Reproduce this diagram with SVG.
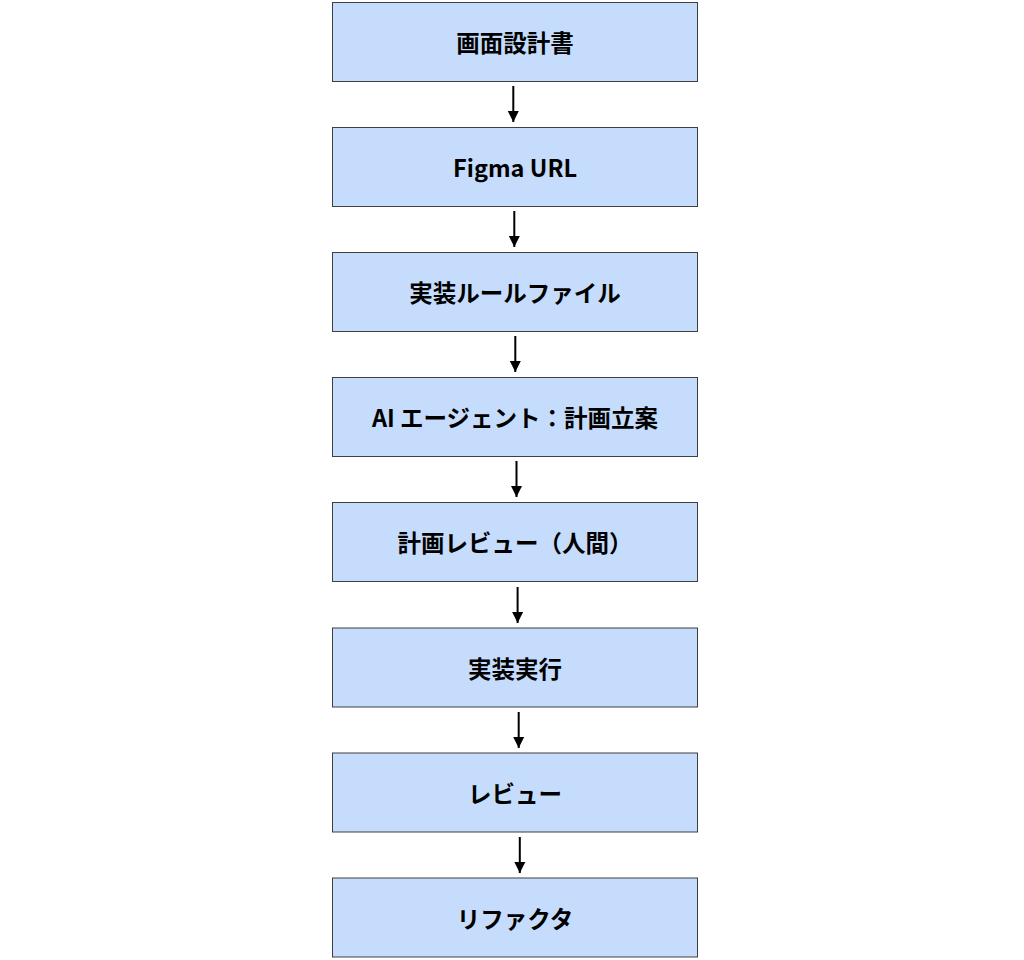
<svg xmlns="http://www.w3.org/2000/svg" width="1024" height="960" viewBox="0 0 1024 960">
<style>
.box{fill:#c5dcfc;stroke:#3f3f3f;stroke-width:1}
.lbl{font-family:"Noto Sans CJK JP","Noto Sans",sans-serif;font-weight:bold;font-size:23.5px;fill:#000;text-anchor:middle;dominant-baseline:central}
.edge{stroke:#000;stroke-width:2;fill:none;marker-end:url(#ah)}
</style>
<defs>
<marker id="ah" viewBox="0 0 10 10" refX="10" refY="5" markerWidth="5.5" markerHeight="6.5" markerUnits="strokeWidth" orient="auto">
<path d="M0,0 L10,5 L0,10 Z" fill="#000"/>
</marker>
</defs>
<rect width="1024" height="960" fill="#fff"/>
<g id="connectors">
<line class="edge" x1="513.3" y1="86" x2="513.3" y2="122"/>
<line class="edge" x1="514.3" y1="211" x2="514.3" y2="247"/>
<line class="edge" x1="515.3" y1="336" x2="515.3" y2="372"/>
<line class="edge" x1="516.5" y1="461" x2="516.5" y2="497"/>
<line class="edge" x1="517.6" y1="587" x2="517.6" y2="623"/>
<line class="edge" x1="518.7" y1="712" x2="518.7" y2="748"/>
<line class="edge" x1="519.8" y1="837" x2="519.8" y2="873"/>
</g>
<g id="n1"><rect class="box" x="332.5" y="2.5" width="365" height="79"/><text class="lbl" x="515" y="42">画面設計書</text></g>
<g id="n2"><rect class="box" x="332.5" y="127.5" width="365" height="79"/><text class="lbl" x="515" y="167">Figma URL</text></g>
<g id="n3"><rect class="box" x="332.5" y="252.5" width="365" height="79"/><text class="lbl" x="515" y="292">実装ルールファイル</text></g>
<g id="n4"><rect class="box" x="332.5" y="377.5" width="365" height="79"/><text class="lbl" x="515" y="417">AI エージェント：計画立案</text></g>
<g id="n5"><rect class="box" x="332.5" y="502.5" width="365" height="79"/><text class="lbl" x="515" y="542">計画レビュー（人間）</text></g>
<g id="n6"><rect class="box" x="332.5" y="628" width="365" height="79"/><text class="lbl" x="515" y="667.5">実装実行</text></g>
<g id="n7"><rect class="box" x="332.5" y="753" width="365" height="79"/><text class="lbl" x="515" y="792.5">レビュー</text></g>
<g id="n8"><rect class="box" x="332.5" y="878" width="365" height="79"/><text class="lbl" x="515" y="917.5">リファクタ</text></g>
</svg>
